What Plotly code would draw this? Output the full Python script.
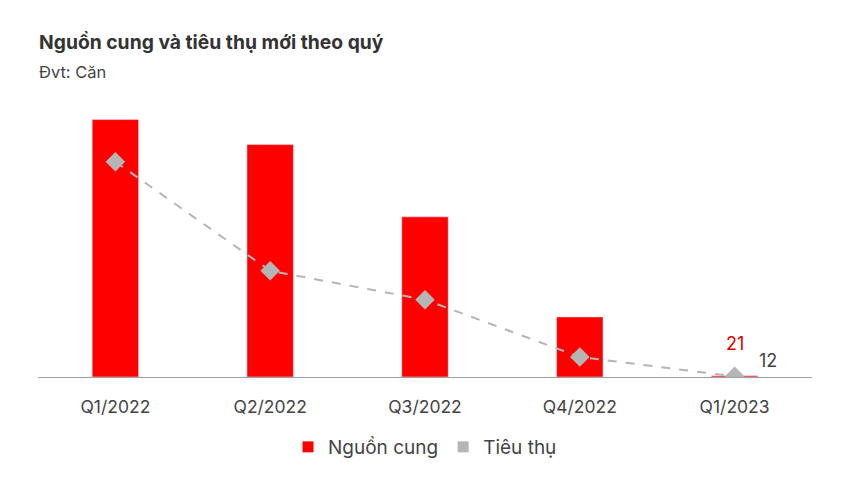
import plotly.graph_objects as go

categories = ["Q1/2022", "Q2/2022", "Q3/2022", "Q4/2022", "Q1/2023"]
supply = [4630, 4180, 2880, 1080, 21]
absorption = [3870, 1910, 1390, 360, 12]

RED = "#ff0000"
GRAY = "#b5b5b5"
FONT = "Inter, Roboto, sans-serif"

fig = go.Figure()
fig.add_trace(go.Bar(x=categories, y=supply, name="Nguồn cung", marker_color=RED,
                     width=0.3, showlegend=False))
fig.add_trace(go.Scatter(x=categories, y=absorption, name="Tiêu thụ", mode="lines+markers",
                         line=dict(color=GRAY, width=2, dash="dash"),
                         marker=dict(symbol="diamond", size=15, color=GRAY),
                         showlegend=False))
# legend entries with square swatches
fig.add_trace(go.Scatter(x=[None], y=[None], mode="markers", name="Nguồn cung",
                         marker=dict(symbol="square", size=11, color=RED)))
fig.add_trace(go.Scatter(x=[None], y=[None], mode="markers", name="Tiêu thụ",
                         marker=dict(symbol="square", size=11, color=GRAY)))

fig.add_annotation(x=categories[-1], y=supply[-1], text=str(supply[-1]), showarrow=False,
                   yshift=32, font=dict(size=18, color="#e00000", family=FONT))
fig.add_annotation(x=categories[-1], y=absorption[-1], text=str(absorption[-1]), showarrow=False,
                   xshift=33, yshift=16, font=dict(size=18, color="#444444", family=FONT))

# title and subtitle
fig.add_annotation(text="<b>Nguồn cung và tiêu thụ mới theo quý</b>", xref="paper", yref="paper",
                   x=(37 - 38) / 772, xanchor="left", y=1 + (99 - 42) / 278, yanchor="middle",
                   showarrow=False, font=dict(size=19.3, color="#333333", family=FONT))
fig.add_annotation(text="Đvt: Căn", xref="paper", yref="paper",
                   x=(37 - 38) / 772, xanchor="left", y=1 + (99 - 72) / 278, yanchor="middle",
                   showarrow=False, font=dict(size=16.5, color="#444444", family=FONT))

fig.update_layout(
    width=854, height=494,
    margin=dict(l=38, r=42, t=99, b=117, autoexpand=False),
    paper_bgcolor="white", plot_bgcolor="white",
    font=dict(family=FONT, color="#444444"),
    xaxis=dict(showline=True, linecolor="#a0a0a0", linewidth=1, ticks="",
               tickfont=dict(size=17.5, color="#444444"), showgrid=False,
               ticklabelstandoff=14),
    yaxis=dict(range=[0, 5000], visible=False, showgrid=False, zeroline=False),
    legend=dict(orientation="h", x=0.5, xanchor="center", y=-(447 - 377) / 278, yanchor="middle",
                font=dict(size=19, color="#444444"), itemwidth=30, tracegroupgap=0),
    bargap=0.7,
)

fig.write_html("out.html", config={"displayModeBar": False},
               post_script="document.body.style.margin='0';")
